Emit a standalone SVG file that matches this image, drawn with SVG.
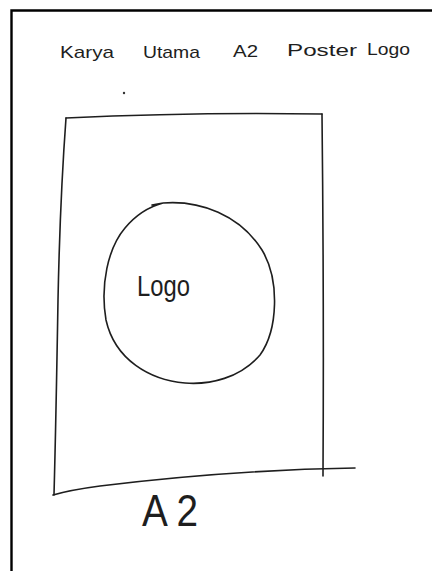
<svg xmlns="http://www.w3.org/2000/svg" width="432" height="571" viewBox="0 0 432 571">
  <style>
    .ink { fill: none; stroke: #1e1e1e; stroke-width: 1.6; stroke-linecap: round; stroke-linejoin: round; }
    .frame { fill: none; stroke: #000; stroke-width: 2.4; }
    .hand { font-family: "Liberation Sans", "DejaVu Sans", sans-serif; fill: #1e1e1e; }
  </style>
  <rect width="432" height="571" fill="#ffffff"/>
  <g id="page-frame">
    <path class="frame" d="M11.5 571 V10.5 H432"/>
  </g>
  <g id="title">
    <text class="hand" x="60" y="58" font-size="17" textLength="54" lengthAdjust="spacingAndGlyphs">Karya</text>
    <text class="hand" x="143" y="58" font-size="17" textLength="57" lengthAdjust="spacingAndGlyphs">Utama</text>
    <text class="hand" x="233" y="57" font-size="17" textLength="25" lengthAdjust="spacingAndGlyphs">A2</text>
    <text class="hand" x="287" y="56" font-size="17" textLength="70" lengthAdjust="spacingAndGlyphs">Poster</text>
    <text class="hand" x="367" y="55" font-size="17" textLength="43" lengthAdjust="spacingAndGlyphs">Logo</text>
  </g>
  <g id="dot">
    <circle cx="124" cy="93" r="1.2" fill="#333"/>
  </g>
  <g id="poster-a2">
    <path class="ink" d="M66 118 Q190 112 322 114"/>
    <path class="ink" d="M322 114 Q324 300 323 476"/>
    <path class="ink" d="M66 118 Q60 200 58 300 Q56 420 54 495"/>
    <path class="ink" d="M53 495 Q70 490 100 486 Q230 470 355 468"/>
    <text class="hand" x="142" y="526" font-size="44" textLength="56" lengthAdjust="spacingAndGlyphs">A 2</text>
  </g>
  <g id="logo-circle">
    <path class="ink" d="M152 205 L163 203 C 200 200 240 215 262 250 C 280 280 278 330 260 355 C 240 378 210 385 185 383 C 150 380 115 360 106 320 C 100 285 108 248 125 228 C 135 216 148 207 163 203"/>
    <text class="hand" x="137" y="296" font-size="29" textLength="53" lengthAdjust="spacingAndGlyphs">Logo</text>
  </g>
</svg>
